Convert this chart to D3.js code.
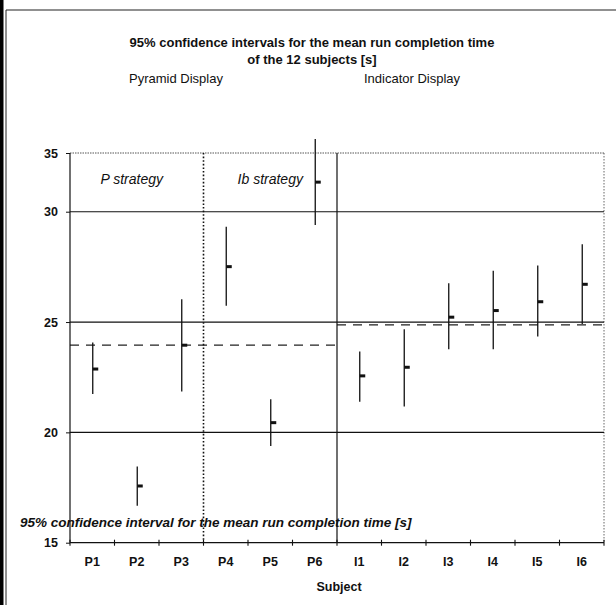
<!DOCTYPE html>
<html>
<head>
<meta charset="utf-8">
<script src="https://cdn.jsdelivr.net/npm/d3@7/dist/d3.min.js"></script>
<style>
  html, body { margin: 0; padding: 0; background: #fff; }
  svg { display: block; }
  text { font-family: "Liberation Sans", Arial, sans-serif; fill: #111; }
</style>
</head>
<body>
<script>
// ---- data ----
const subjects = ["P1", "P2", "P3", "P4", "P5", "P6", "I1", "I2", "I3", "I4", "I5", "I6"];
const means    = [22.87, 17.57, 23.95, 27.51, 20.44, 31.34, 22.56, 22.95, 25.22, 25.52, 25.92, 26.71];
const lower    = [21.74, 16.68, 21.85, 25.74, 19.38, 29.40, 21.39, 21.17, 23.77, 23.77, 24.34, 24.91];
const upper    = [24.07, 18.45, 26.03, 29.32, 21.50, 33.30, 23.66, 24.67, 26.76, 27.32, 27.56, 28.53];
const displays = ["Pyramid Display", "Indicator Display"];
const displaySubjects = [["P1", "P6"], ["I1", "I6"]];
const displayMeans = [23.95, 24.87];
const strategies = ["P strategy", "Ib strategy"];
const strategySubjects = [["P1", "P3"], ["P4", "P6"]];
const yTickValues = [15, 20, 25, 30, 32.66];
const yTickLabels = ["15", "20", "25", "30", "35"];
const gridValues = [20, 25, 30];

(function () {
const W = 616, H = 605;
const pL = 70, pR = 604, pT = 153, pB = 542.7;

const svg = d3.select("body").append("svg").attr("width", W).attr("height", H);

// outer frame
svg.append("rect").attr("x", 0).attr("y", 0).attr("width", 3.5).attr("height", H).attr("fill", "#000");
svg.append("line").attr("x1", 6).attr("x2", 6).attr("y1", 10).attr("y2", H).attr("stroke", "#222").attr("stroke-width", 1);
svg.append("line").attr("x1", 6).attr("x2", W).attr("y1", 10).attr("y2", 10).attr("stroke", "#222").attr("stroke-width", 1.2);

const x = d3.scaleBand().domain(subjects).range([pL, pR]);
const y = d3.scaleLinear().domain([15, 32.66]).range([pB, pT]);

// plot border (dotted top/right)
svg.append("line").attr("x1", pL).attr("x2", pR).attr("y1", pT).attr("y2", pT)
  .attr("stroke", "#555").attr("stroke-width", 1).attr("stroke-dasharray", "1.5,1");
svg.append("line").attr("x1", pR).attr("x2", pR).attr("y1", pT).attr("y2", pB)
  .attr("stroke", "#666").attr("stroke-width", 1).attr("stroke-dasharray", "1.5,1.5");

// gridlines
svg.selectAll("line.grid").data(gridValues).join("line").attr("class", "grid")
  .attr("x1", pL).attr("x2", pR)
  .attr("y1", d => y(d)).attr("y2", d => y(d))
  .attr("stroke", "#111").attr("stroke-width", d => d === 25 ? 1.3 : 1.1);

// display mean dashed lines
displaySubjects.forEach((s, i) => {
  const x0 = x(s[0]), x1 = x(s[1]) + x.bandwidth();
  svg.append("line").attr("x1", x0).attr("x2", x1)
    .attr("y1", y(displayMeans[i])).attr("y2", y(displayMeans[i]))
    .attr("stroke", "#222").attr("stroke-width", 1.2).attr("stroke-dasharray", "9,7");
});

// separators
const sepSolid = x("I1");
svg.append("line").attr("x1", sepSolid).attr("x2", sepSolid).attr("y1", pT).attr("y2", pB)
  .attr("stroke", "#111").attr("stroke-width", 1.2);
const sepDot = x("P4");
svg.append("line").attr("x1", sepDot).attr("x2", sepDot).attr("y1", pT).attr("y2", pB)
  .attr("stroke", "#111").attr("stroke-width", 1.6).attr("stroke-dasharray", "1.6,2");

// y axis
const yAxis = d3.axisLeft(y).tickValues(yTickValues)
  .tickFormat((d, i) => yTickLabels[i]).tickSize(4).tickPadding(8);
const gy = svg.append("g").attr("transform", `translate(${pL},0)`).call(yAxis);
gy.select(".domain").remove();
gy.selectAll(".tick line").attr("stroke", "#111");
gy.selectAll(".tick text").style("font-size", "12.5px").style("font-weight", "bold")
  .style("font-family", "'Liberation Sans', Arial, sans-serif").attr("fill", "#111");
svg.append("line").attr("x1", pL).attr("x2", pL).attr("y1", pT).attr("y2", pB)
  .attr("stroke", "#111").attr("stroke-width", 1.2);

// x axis
svg.append("line").attr("x1", pL).attr("x2", pR).attr("y1", pB).attr("y2", pB)
  .attr("stroke", "#111").attr("stroke-width", 1.2);
const bounds = subjects.map(s => x(s)).concat([pR]);
svg.selectAll("line.xt").data(bounds).join("line").attr("class", "xt")
  .attr("x1", d => d).attr("x2", d => d).attr("y1", pB - 3).attr("y2", pB + 3)
  .attr("stroke", "#111").attr("stroke-width", 1.1);
svg.selectAll("text.xl").data(subjects).join("text").attr("class", "xl")
  .attr("x", d => x(d) + x.bandwidth() / 2).attr("y", 566)
  .attr("text-anchor", "middle").style("font-size", "12.5px").style("font-weight", "bold")
  .text(d => d);
svg.append("text").attr("x", 339).attr("y", 591).attr("text-anchor", "middle")
  .style("font-size", "12.5px").style("font-weight", "bold").text("Subject");

// error bars
const idx = d3.range(subjects.length);
const cx = i => x(subjects[i]) + x.bandwidth() / 2 + 0.5;
svg.selectAll("line.ci").data(idx).join("line").attr("class", "ci")
  .attr("x1", cx).attr("x2", cx)
  .attr("y1", i => y(lower[i])).attr("y2", i => y(upper[i]))
  .attr("stroke", "#111").attr("stroke-width", 1.3);
svg.selectAll("rect.mean").data(idx).join("rect").attr("class", "mean")
  .attr("x", i => cx(i)).attr("y", i => y(means[i]) - 1.5)
  .attr("width", 5.5).attr("height", 3).attr("fill", "#111");

// titles
svg.append("text").attr("x", 312).attr("y", 47).attr("text-anchor", "middle")
  .style("font-size", "13px").style("font-weight", "bold")
  .text("95% confidence intervals for the mean run completion time");
svg.append("text").attr("x", 312).attr("y", 64).attr("text-anchor", "middle")
  .style("font-size", "13px").style("font-weight", "bold")
  .text("of the 12 subjects [s]");
const dispCenters = [176, 412];
displays.forEach((t, i) => {
  svg.append("text").attr("x", dispCenters[i]).attr("y", 83).attr("text-anchor", "middle")
    .style("font-size", "13px").text(t);
});
const stratShift = [-5, 0];
strategySubjects.forEach((s, i) => {
  const cxs = (x(s[0]) + x(s[1]) + x.bandwidth()) / 2 + stratShift[i];
  svg.append("text").attr("x", cxs).attr("y", 184).attr("text-anchor", "middle")
    .style("font-size", "14px").style("font-style", "italic").text(strategies[i]);
});
svg.append("text").attr("x", 20).attr("y", 527)
  .style("font-size", "13.5px").style("font-weight", "bold").style("font-style", "italic")
  .text("95% confidence interval for the mean run completion time [s]");
})();
</script>
</body>
</html>
